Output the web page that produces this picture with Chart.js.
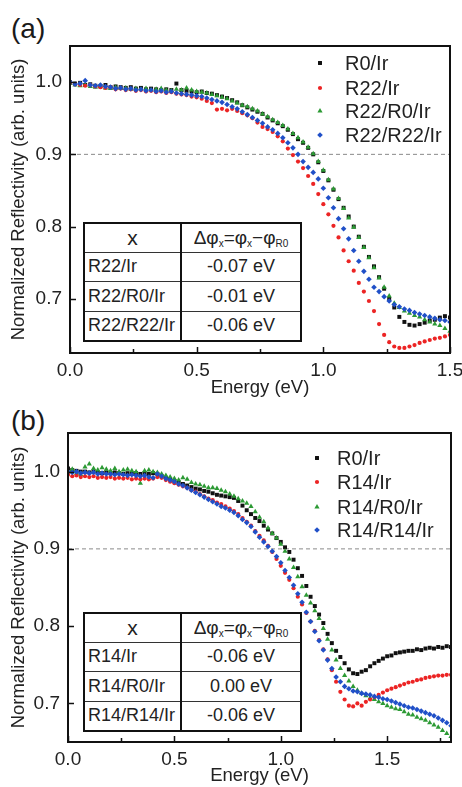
<!DOCTYPE html>
<html><head><meta charset="utf-8">
<script src="https://cdn.jsdelivr.net/npm/chart.js@4/dist/chart.umd.min.js"></script>
<style>
html,body{margin:0;padding:0;background:#fff;width:462px;height:787px;overflow:hidden;font-family:"Liberation Sans",Arial,sans-serif;}
canvas{position:absolute;left:0;}
#ca{top:0;}
#cb{top:400px;}
.lbl{position:absolute;left:11px;font-size:28px;color:#1a1a1a;line-height:32px;}
table.info{position:absolute;border-collapse:collapse;background:#fff;font-size:18px;color:#222;table-layout:fixed;border:2px solid #111;}
table.info td{border:1.5px solid #333;padding:0;white-space:nowrap;}
table.info td.c1{width:95px;padding-left:3px;border-right:2px solid #111;}
table.info td.c2{text-align:center;}
table.info tr.h td.c1{text-align:center;font-size:21px;padding-left:0;}
table.info tr.h td.c2{font-size:19px;}
table.info sub{font-size:10px;vertical-align:-3px;}
</style></head>
<body>
<div class="lbl" style="top:13px;">(a)</div>
<div class="lbl" style="top:405px;">(b)</div>
<canvas id="ca" width="462" height="400"></canvas>
<canvas id="cb" width="462" height="387"></canvas>
<script>
// ---------- Panel (a) data ----------
const energyA = [0,0.02,0.04,0.06,0.08,0.1,0.12,0.14,0.16,0.18,0.2,0.22,0.24,0.26,0.28,0.3,0.32,0.34,0.36,0.38,0.4,0.42,0.44,0.46,0.48,0.5,0.52,0.54,0.56,0.58,0.6,0.62,0.64,0.66,0.68,0.7,0.72,0.74,0.76,0.78,0.8,0.82,0.84,0.86,0.88,0.9,0.92,0.94,0.96,0.98,1,1.02,1.04,1.06,1.08,1.1,1.12,1.14,1.16,1.18,1.2,1.22,1.24,1.26,1.28,1.3,1.32,1.34,1.36,1.38,1.4,1.42,1.44,1.46,1.48,1.5];
const r0IrA = [1.000,0.998,0.999,0.996,0.997,0.995,0.994,0.996,0.993,0.994,
0.993,0.992,0.993,0.991,0.992,0.990,0.991,0.990,0.989,0.990,
0.989,0.998,0.989,0.988,0.987,0.986,0.987,0.985,0.984,0.982,
0.980,0.978,0.975,0.972,0.968,0.965,0.962,0.959,0.956,0.951,
0.947,0.943,0.939,0.934,0.928,0.921,0.916,0.909,0.900,0.889,
0.877,0.864,0.851,0.838,0.826,0.814,0.800,0.786,0.772,0.758,
0.745,0.730,0.714,0.700,0.688,0.675,0.668,0.664,0.663,0.665,
0.667,0.670,0.671,0.674,0.676,0.674];
const r22IrA = [0.999,0.997,0.996,0.995,0.996,0.994,0.993,0.992,0.993,0.990,
0.991,0.989,0.990,0.988,0.989,0.987,0.988,0.986,0.987,0.985,
0.986,0.984,0.983,0.982,0.980,0.979,0.977,0.974,0.971,0.962,
0.963,0.961,0.963,0.960,0.957,0.954,0.950,0.944,0.938,0.935,
0.931,0.925,0.918,0.908,0.899,0.890,0.881,0.870,0.859,0.845,
0.831,0.817,0.801,0.785,0.767,0.752,0.739,0.722,0.710,0.697,
0.683,0.665,0.650,0.640,0.634,0.632,0.632,0.634,0.636,0.639,
0.641,0.643,0.645,0.646,0.648,0.650];
const r22R0IrA = [0.998,0.996,0.995,0.996,0.994,0.993,0.995,0.992,0.991,0.993,
0.991,0.992,0.990,0.991,0.990,0.991,0.989,0.990,0.991,0.989,
0.988,0.990,0.989,0.992,0.989,0.987,0.986,0.985,0.983,0.981,
0.979,0.977,0.974,0.971,0.968,0.966,0.963,0.960,0.956,0.952,
0.948,0.944,0.940,0.935,0.929,0.923,0.917,0.910,0.901,0.890,
0.878,0.865,0.852,0.839,0.825,0.812,0.799,0.785,0.771,0.757,
0.743,0.729,0.716,0.704,0.694,0.688,0.683,0.680,0.677,0.675,
0.671,0.668,0.665,0.663,0.659,0.655];
const r22R22IrA = [1.000,0.997,0.998,1.002,0.996,0.995,0.996,0.994,0.993,0.991,
0.992,0.990,0.991,0.989,0.990,0.988,0.989,0.987,0.988,0.986,
0.987,0.985,0.984,0.983,0.982,0.981,0.980,0.978,0.976,0.974,
0.972,0.969,0.966,0.963,0.959,0.955,0.951,0.947,0.943,0.938,
0.934,0.929,0.923,0.916,0.909,0.900,0.890,0.882,0.875,0.866,
0.853,0.840,0.826,0.811,0.797,0.783,0.767,0.752,0.738,0.727,
0.716,0.710,0.703,0.697,0.692,0.689,0.686,0.684,0.681,0.679,
0.677,0.675,0.673,0.671,0.670,0.668];
const labelsA = ['R0/Ir','R22/Ir','R22/R0/Ir','R22/R22/Ir'];
const tableNamesA = ['R22/Ir','R22/R0/Ir','R22/R22/Ir'];
const tableShiftA = ['-0.07 eV','-0.01 eV','-0.06 eV'];
const xTicksA = [0,0.5,1.0,1.5];
const xMinorA = [0.25,0.75,1.25];
const yTicksA = [0.7,0.8,0.9,1.0];

// ---------- Panel (b) data ----------
const energyB = [0,0.02,0.04,0.06,0.08,0.1,0.12,0.14,0.16,0.18,0.2,0.22,0.24,0.26,0.28,0.3,0.32,0.34,0.36,0.38,0.4,0.42,0.44,0.46,0.48,0.5,0.52,0.54,0.56,0.58,0.6,0.62,0.64,0.66,0.68,0.7,0.72,0.74,0.76,0.78,0.8,0.82,0.84,0.86,0.88,0.9,0.92,0.94,0.96,0.98,1,1.02,1.04,1.06,1.08,1.1,1.12,1.14,1.16,1.18,1.2,1.22,1.24,1.26,1.28,1.3,1.32,1.34,1.36,1.38,1.4,1.42,1.44,1.46,1.48,1.5,1.52,1.54,1.56,1.58,1.6,1.62,1.64,1.66,1.68,1.7,1.72,1.74,1.76,1.78,1.8];
const r0IrB = [1.004,1.002,1.001,1.000,1.000,0.999,1.000,0.999,0.998,0.999,
0.998,0.999,0.998,0.997,0.998,0.997,0.998,0.997,0.998,0.997,
0.998,0.997,0.994,0.992,0.990,0.988,0.986,0.984,0.982,0.980,
0.978,0.977,0.975,0.974,0.972,0.970,0.969,0.968,0.967,0.966,
0.962,0.956,0.950,0.945,0.940,0.936,0.930,0.925,0.920,0.914,
0.909,0.902,0.896,0.886,0.875,0.865,0.852,0.838,0.826,0.815,
0.804,0.790,0.778,0.768,0.760,0.752,0.744,0.739,0.738,0.741,
0.743,0.748,0.752,0.755,0.758,0.761,0.762,0.765,0.766,0.767,
0.768,0.768,0.770,0.769,0.771,0.772,0.771,0.773,0.772,0.774,
0.773];
const r14IrB = [0.996,0.994,0.995,0.993,0.994,0.993,0.994,0.992,0.993,0.992,
0.993,0.991,0.992,0.991,0.992,0.990,0.991,0.990,0.991,0.990,
0.991,0.993,0.992,0.989,0.987,0.985,0.983,0.981,0.979,0.976,
0.974,0.971,0.968,0.965,0.963,0.960,0.958,0.955,0.952,0.949,
0.945,0.940,0.935,0.930,0.923,0.917,0.911,0.904,0.896,0.887,
0.878,0.869,0.860,0.849,0.838,0.828,0.817,0.806,0.794,0.782,
0.770,0.757,0.743,0.728,0.715,0.705,0.697,0.696,0.700,0.697,
0.702,0.705,0.708,0.711,0.714,0.717,0.719,0.721,0.723,0.725,
0.727,0.728,0.730,0.731,0.733,0.734,0.735,0.736,0.736,0.737,
0.737];
const r14R0IrB = [1.000,1.003,0.998,0.996,1.006,1.010,1.004,1.002,1.005,1.003,
1.001,1.004,1.000,1.002,1.003,1.001,1.000,0.985,1.001,1.002,
1.000,0.999,0.997,0.995,0.993,0.991,0.989,0.992,0.990,0.986,
0.984,0.983,0.981,0.979,0.979,0.978,0.976,0.974,0.971,0.968,
0.965,0.962,0.959,0.955,0.948,0.941,0.935,0.927,0.920,0.914,
0.906,0.897,0.887,0.876,0.864,0.851,0.840,0.830,0.820,0.810,
0.797,0.783,0.769,0.756,0.745,0.736,0.729,0.722,0.717,0.713,
0.710,0.707,0.705,0.702,0.700,0.697,0.695,0.693,0.692,0.689,
0.686,0.685,0.682,0.680,0.678,0.675,0.672,0.669,0.665,0.661,
0.657];
const r14R14IrB = [1.000,0.999,1.000,0.998,0.999,0.998,0.999,0.997,0.998,0.997,
0.997,0.996,0.997,0.996,0.995,0.996,0.995,0.994,0.995,0.993,
0.992,0.997,0.994,0.991,0.989,0.987,0.984,0.982,0.979,0.976,
0.973,0.970,0.967,0.964,0.961,0.958,0.955,0.953,0.950,0.947,
0.943,0.938,0.934,0.929,0.922,0.915,0.909,0.903,0.897,0.890,
0.882,0.872,0.863,0.853,0.842,0.831,0.818,0.806,0.793,0.781,
0.769,0.756,0.745,0.734,0.728,0.722,0.719,0.716,0.715,0.713,
0.712,0.711,0.709,0.708,0.706,0.705,0.703,0.701,0.699,0.697,
0.695,0.694,0.692,0.690,0.688,0.686,0.684,0.681,0.678,0.675,
0.671];
const labelsB = ['R0/Ir','R14/Ir','R14/R0/Ir','R14/R14/Ir'];
const tableNamesB = ['R14/Ir','R14/R0/Ir','R14/R14/Ir'];
const tableShiftB = ['-0.06 eV','0.00 eV','-0.06 eV'];
const xTicksB = [0,0.5,1.0,1.5];
const xMinorB = [0.25,0.75,1.25,1.75];
const yTicksB = [0.7,0.8,0.9,1.0];

const refLevel = 0.9;

// ---------- styles ----------
const FAMILY = '"Liberation Sans", Arial, sans-serif';
const TXT = '#222';
const seriesStyle = [
  {color:'#111111', pointStyle:'rect', radius:2.8, order:4},
  {color:'#ec2424', pointStyle:'circle', radius:2.1, order:2},
  {color:'#2c9a34', pointStyle:'triangle', radius:3.0, order:3},
  {color:'#2050c8', pointStyle:'rectRot', radius:2.8, order:1}
];

function pts(xs, ys){ return xs.map((x,i)=>({x:x, y:ys[i]})); }

const framePlugin = {
  id:'frame',
  afterDatasetsDraw(chart, args, o){
    const {ctx, chartArea:a, scales:{x,y}} = chart;
    ctx.save();
    ctx.strokeStyle='#111'; ctx.lineWidth=1.5;
    ctx.beginPath();
    o.xMajor.forEach(v=>{const p=Math.round(x.getPixelForValue(v))+0.5; ctx.moveTo(p,a.bottom); ctx.lineTo(p,a.bottom-6);});
    o.xMinor.forEach(v=>{const p=Math.round(x.getPixelForValue(v))+0.5; ctx.moveTo(p,a.bottom); ctx.lineTo(p,a.bottom-4);});
    o.yMajor.forEach(v=>{const p=Math.round(y.getPixelForValue(v))+0.5; ctx.moveTo(a.left,p); ctx.lineTo(a.left+6,p);});
    ctx.stroke();
    ctx.lineWidth=2;
    ctx.strokeRect(a.left, a.top, a.right-a.left, a.bottom-a.top);
    // legend
    ctx.font = o.fontSize + 'px ' + FAMILY;
    ctx.textBaseline='middle'; ctx.textAlign='left';
    o.items.forEach((lab,i)=>{
      const ds = chart.data.datasets[i];
      const yy = a.top + o.rows[i];
      ctx.fillStyle = ds.backgroundColor;
      ctx.strokeStyle = ds.backgroundColor;
      if (Chart.helpers && Chart.helpers.drawPoint) {
        Chart.helpers.drawPoint(ctx, {pointStyle:ds.pointStyle, radius:ds.pointRadius, rotation:0, borderWidth:0}, o.markerX, yy);
      } else { ctx.fillRect(o.markerX-2, yy-2, 4, 4); }
      ctx.fillStyle = TXT;
      ctx.fillText(lab, o.textX, yy+1);
    });
    ctx.restore();
  }
};

function makeChart(id, cfg){
  const datasets = cfg.series.map((ys,i)=>({
    label: cfg.labels[i],
    data: pts(cfg.energy, ys),
    backgroundColor: seriesStyle[i].color,
    borderColor: seriesStyle[i].color,
    pointStyle: seriesStyle[i].pointStyle,
    pointRadius: seriesStyle[i].radius,
    pointBorderWidth: 0,
    pointHoverRadius: seriesStyle[i].radius,
    showLine:false,
    order: seriesStyle[i].order
  }));
  datasets.push({
    label:'ref',
    data:[{x:cfg.xMin,y:refLevel},{x:cfg.xMax,y:refLevel}],
    showLine:true, borderColor:'#8a8a8a', borderWidth:1, borderDash:[4,3],
    pointRadius:0, order:9, backgroundColor:'#8a8a8a'
  });
  return new Chart(document.getElementById(id), {
    type:'scatter',
    data:{datasets},
    options:{
      responsive:false, animation:false, devicePixelRatio:1,
      layout:{padding:{top:cfg.padTop, right:cfg.padRight, left:0, bottom:0}},
      plugins:{legend:{display:false}, tooltip:{enabled:false},
        frame:{xMajor:cfg.xTicks, xMinor:cfg.xMinor, yMajor:cfg.yTicks,
               items:cfg.labels, rows:cfg.legendRows, markerX:cfg.markerX, textX:cfg.textX, fontSize:20}},
      scales:{
        x:{type:'linear', position:'bottom', min:cfg.xMin, max:cfg.xMax,
           grid:{display:false, drawTicks:false}, border:{display:false},
           ticks:{font:{size:19,family:FAMILY}, color:TXT, padding:cfg.xTickPad, maxRotation:0, callback:v=>Number(v).toFixed(1)},
           afterBuildTicks:s=>{s.ticks = cfg.xTicks.map(v=>({value:v}));},
           afterFit:s=>{s.height=cfg.xAxisH; s.paddingLeft=0; s.paddingRight=0;},
           title:{display:true, text:'Energy (eV)', font:{size:18.5,family:FAMILY}, color:TXT, padding:{top:0,bottom:cfg.xTitlePad}}
        },
        y:{type:'linear', position:'left', min:cfg.yMin, max:cfg.yMax,
           grid:{display:false, drawTicks:false}, border:{display:false},
           ticks:{font:{size:19,family:FAMILY}, color:TXT, padding:8, callback:v=>Number(v).toFixed(1)},
           afterBuildTicks:s=>{s.ticks = cfg.yTicks.map(v=>({value:v}));},
           afterFit:s=>{s.width=cfg.yAxisW; s.paddingTop=0; s.paddingBottom=0;},
           title:{display:true, text:'Normalized Reflectivity (arb. units)', font:{size:18.5,family:FAMILY}, color:TXT, padding:{top:8,bottom:0}}
        }
      }
    },
    plugins:[framePlugin]
  });
}

makeChart('ca', {
  energy:energyA, series:[r0IrA, r22IrA, r22R0IrA, r22R22IrA], labels:labelsA,
  xMin:0, xMax:1.5, yMin:0.625, yMax:1.05, xTicks:xTicksA, xMinor:xMinorA, yTicks:yTicksA,
  padTop:46, padRight:12, yAxisW:70, xAxisH:47, xTickPad:6, xTitlePad:1,
  legendRows:[17,42,65,89], markerX:320, textX:345
});
makeChart('cb', {
  energy:energyB, series:[r0IrB, r14IrB, r14R0IrB, r14R14IrB], labels:labelsB,
  xMin:0, xMax:1.8, yMin:0.65, yMax:1.05, xTicks:xTicksB, xMinor:xMinorB, yTicks:yTicksB,
  padTop:33, padRight:11, yAxisW:68, xAxisH:45, xTickPad:6, xTitlePad:0,
  legendRows:[25,49,74,97], markerX:317, textX:337
});

function makeTable(left, top, names, shifts){
  const t = document.createElement('table');
  t.className='info';
  t.style.left = left+'px'; t.style.top = top+'px'; t.style.width='219px';
  const heights=[29,29,30,30];
  let html = '<tr class="h" style="height:'+heights[0]+'px"><td class="c1">x</td><td class="c2">&Delta;&phi;<sub>x</sub>=&phi;<sub>x</sub>&minus;&phi;<sub>R0</sub></td></tr>';
  names.forEach((n,i)=>{ html += '<tr style="height:'+heights[i+1]+'px"><td class="c1">'+n+'</td><td class="c2">'+shifts[i]+'</td></tr>'; });
  t.innerHTML = html;
  document.body.appendChild(t);
}
makeTable(83, 222, tableNamesA, tableShiftA);
makeTable(83, 612, tableNamesB, tableShiftB);
</script>
</body></html>
